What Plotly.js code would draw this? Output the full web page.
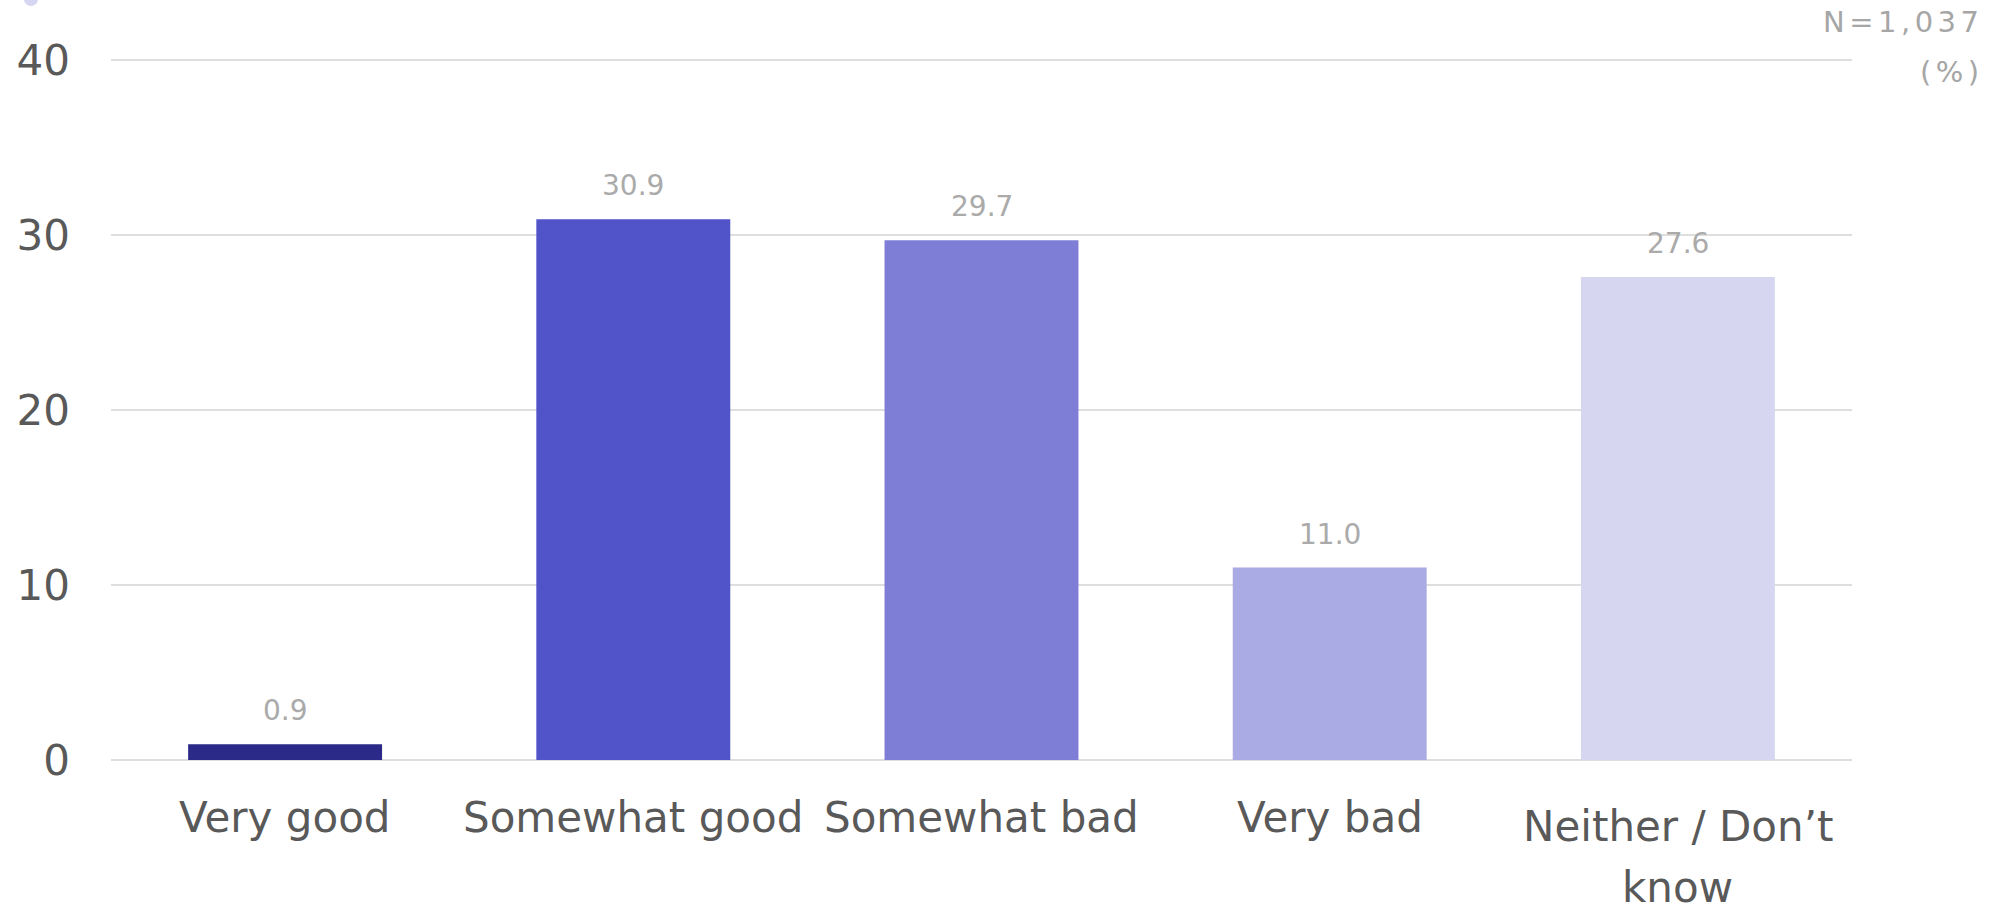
<!DOCTYPE html>
<html>
<head>
<meta charset="utf-8">
<script src="https://cdn.plot.ly/plotly-3.0.1.min.js"></script>
<style>html,body{margin:0;padding:0;background:#fff;}#chart{width:2005px;height:909px;}</style>
</head>
<body>
<div id="chart"></div>
<script>
const categories = ["Very good", "Somewhat good", "Somewhat bad", "Very bad", "Neither / Don’t<br>know"];
const values = [0.9, 30.9, 29.7, 11.0, 27.6];
const barColors = ["#2b2a88", "#5153c9", "#7e7ed6", "#aaaae5", "#d6d6f1"];
const yTickValues = [0, 10, 20, 30, 40];
const yTickLabels = ["0", "10", "20", "30", "40"];
const noteLines = ["N=1,037", "(%)"];

const FONT = "Verdana, 'DejaVu Sans', sans-serif";
const PLOT_H = 707; // pixels of plot area (0 .. 40.4)

const trace = {
  type: "bar",
  x: categories,
  y: values,
  marker: {color: barColors, line: {width: 0}},
  hoverinfo: "none"
};

const valueAnnotations = categories.map((c, i) => ({
  x: c, y: values[i], xref: "x", yref: "y",
  text: values[i].toFixed(1),
  showarrow: false, yanchor: "bottom", yshift: 15,
  font: {family: FONT, size: 28, color: "#aaaaaa"}
}));

// category labels drawn below the axis, one text line each (wider line spacing than plotly's default)
const categoryAnnotations = [];
categories.forEach((c) => {
  const lines = c.split("<br>");
  const off = lines.length > 1 ? 9 : 0;
  lines.forEach((ln, j) => {
    categoryAnnotations.push({
      x: c, y: 0, xref: "x", yref: "paper",
      text: ln, showarrow: false, xanchor: "center", yanchor: "middle",
      yshift: -(57.5 + off + 61 * j),
      font: {family: FONT, size: 42, color: "#595959"}
    });
  });
});

const noteAnnotations = [
  {xref: "paper", yref: "paper", x: 1.0768, y: (760 - 22.5) / PLOT_H, xanchor: "right", yanchor: "middle",
   text: '<span style="letter-spacing:4.5px">' + noteLines[0] + '</span>', showarrow: false,
   font: {family: FONT, size: 29, color: "#a6a6a6"}},
  {xref: "paper", yref: "paper", x: 1.0768, y: (760 - 72.4) / PLOT_H, xanchor: "right", yanchor: "middle",
   text: '<span style="letter-spacing:4.5px">' + noteLines[1] + '</span>', showarrow: false,
   font: {family: FONT, size: 29, color: "#a6a6a6"}}
];

const layout = {
  width: 2005, height: 909,
  margin: {l: 111, r: 153, t: 53, b: 149, pad: 0},
  paper_bgcolor: "#ffffff", plot_bgcolor: "#ffffff",
  bargap: 0.443,
  showlegend: false,
  font: {family: FONT, color: "#595959"},
  xaxis: {
    type: "category",
    showgrid: false, zeroline: false, showline: false,
    ticks: "", showticklabels: false
  },
  yaxis: {
    range: [0, 40.4],
    tickvals: yTickValues, ticktext: yTickLabels,
    showgrid: true, gridcolor: "#dedede", gridwidth: 2,
    zeroline: true, zerolinecolor: "#dedede", zerolinewidth: 2,
    showline: false, ticks: "", ticklabelstandoff: 40,
    tickfont: {family: FONT, size: 42, color: "#595959"}
  },
  annotations: valueAnnotations.concat(categoryAnnotations, noteAnnotations),
  shapes: [
    {type: "circle", xref: "paper", yref: "paper", x0: -0.05, x1: -0.0419,
     y0: (760 - 6) / PLOT_H, y1: (760 + 8) / PLOT_H,
     fillcolor: "#d6d6f1", line: {width: 0}, layer: "above"}
  ]
};

Plotly.newPlot("chart", [trace], layout, {displayModeBar: false, staticPlot: true});
</script>
</body>
</html>
